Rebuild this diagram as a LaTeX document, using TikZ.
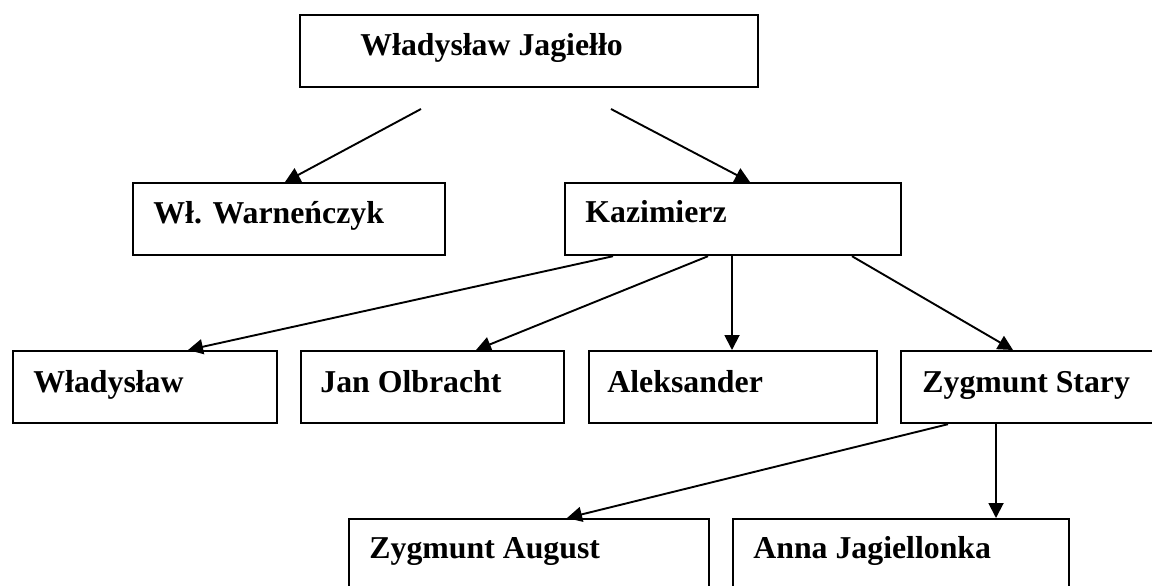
\documentclass[tikz,border=0pt]{standalone}
\usepackage{fontspec}
\setmainfont{Liberation Serif}
\usetikzlibrary{arrows.meta,calc}
\begin{document}
\begin{tikzpicture}[x=0.5pt,y=-0.5pt,
  box/.style={draw, line width=1.1pt, rectangle, inner sep=0pt, anchor=north west, minimum height=36pt},
  lbl/.style={anchor=base west, inner sep=0pt, font=\fontsize{15.9pt}{18pt}\selectfont\bfseries},
  arr/.style={line width=0.95pt, -{Triangle[length=7.5pt,width=7.5pt]}}]
\fill[white] (0,0) rectangle (1152,585);
\useasboundingbox (0,0) rectangle (1152,585);
\clip (0,0) rectangle (1152,585);
% boxes
\node[box, minimum width=229pt] (wj)  at (299,14)  {};
\node[box, minimum width=156pt] (war) at (132,182) {};
\node[box, minimum width=168pt] (kaz) at (564,182) {};
\node[box, minimum width=132pt] (wl)  at (12,350)  {};
\node[box, minimum width=131.5pt] (jan) at (300,350) {};
\node[box, minimum width=144pt] (ale) at (588,350) {};
\node[box, minimum width=135pt] (zs)  at (900,350) {};
\node[box, minimum width=180pt, minimum height=40pt] (za)  at (348,518) {};
\node[box, minimum width=168pt, minimum height=40pt] (ann) at (732,518) {};
% labels
\node[lbl] (twj)  at (360,55)  {Władysław Jagiełło};
\node[lbl] (twar) at (153,223) {Wł. Warneńczyk};
\node[lbl] (tkaz) at (585,222) {Kazimierz};
\node[lbl] (twl)  at (33,392)  {Władysław};
\node[lbl] (tjan) at (320,392) {Jan Olbracht};
\node[lbl] (tale) at (607,392) {Aleksander};
\node[lbl] (tzs)  at (922,392) {Zygmunt Stary};
\node[lbl] (tza)  at (369,558) {Zygmunt August};
\node[lbl] (tann) at (753,558) {Anna Jagiellonka};
% connector end points
\coordinate (s1) at (421,109);
\coordinate (s2) at (611,109);
\draw[arr] (s1) -- ($(war.north west)+(153,0)$);
\draw[arr] (s2) -- ($(kaz.north west)+(186,0)$);
\draw[arr] ($(kaz.south west)+(49,0)$)  -- ($(wl.north west)+(176,0)$);
\draw[arr] ($(kaz.south west)+(144,0)$) -- ($(jan.north west)+(176,0)$);
\draw[arr] ($(kaz.south west)+(168,0)$) -- ($(ale.north west)+(144,0)$);
\draw[arr] ($(kaz.south west)+(288,0)$) -- ($(zs.north west)+(113,0)$);
\draw[arr] ($(zs.south west)+(48,0)$)   -- ($(za.north west)+(219,0)$);
\draw[arr] ($(zs.south west)+(96,0)$)   -- ($(ann.north west)+(264,0)$);
\end{tikzpicture}
\end{document}
